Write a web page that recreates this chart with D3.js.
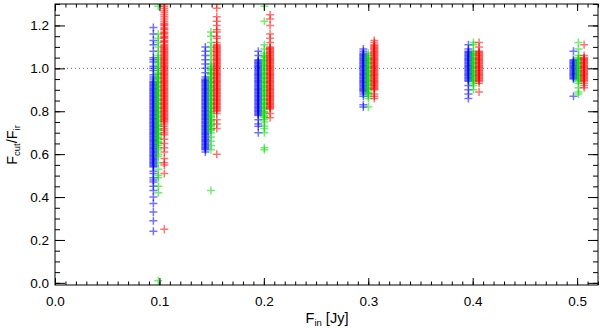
<!DOCTYPE html>
<html><head><meta charset="utf-8">
<script src="https://cdn.jsdelivr.net/npm/d3@7"></script>
<style>body{margin:0;background:#fff}svg{display:block;font-family:"Liberation Sans",Arial,Helvetica,sans-serif}</style>
</head><body><svg id="c" width="600" height="328"></svg>
<script>
// ---- data ----
const xTickValues = [0.0, 0.1, 0.2, 0.3, 0.4, 0.5];
const yTickValues = [0.0, 0.2, 0.4, 0.6, 0.8, 1.0, 1.2];
const groupNominal = [0.10, 0.15, 0.20, 0.30, 0.40, 0.50];
const blueX  = [0.0942, 0.1440, 0.1947, 0.2953, 0.3959, 0.4965];
const greenX = [0.0989, 0.1494, 0.2005, 0.3001, 0.4007, 0.5013];
const redX   = [0.1047, 0.1549, 0.2060, 0.3058, 0.4061, 0.5067];

const blue_010 = [1.19,1.16,1.13,1.11,1.08,1.05,1.04,1.03,1.01,1.00,0.99,0.97,0.96,0.95,0.94,0.93,0.92,0.91,0.90,0.89,0.88,0.87,0.86,0.85,0.84,0.83,0.82,0.81,0.80,0.79,0.78,0.77,0.76,0.75,0.74,0.73,0.72,0.71,0.70,0.69,0.68,0.67,0.66,0.65,0.64,0.63,0.62,0.61,0.60,0.59,0.58,0.57,0.56,0.55,0.54,0.52,0.51,0.49,0.48,0.47,0.45,0.43,0.40,0.37,0.33,0.29,0.24,
  0.935,0.925,0.915,0.905,0.895,0.885,0.875,0.865,0.855,0.845,0.835,0.825,0.815,0.805,0.795,0.785,0.775,0.765,0.755,0.745,0.735,0.725,0.715,0.705,0.695,0.685,0.675,0.665,0.655,0.645,0.635,0.625,0.615,0.605,0.595,0.585,0.575,0.565,0.555,0.545];
const green_010 = [1.29,1.16,1.14,1.12,1.10,1.08,1.06,1.05,1.04,1.03,1.02,1.01,1.00,0.99,0.98,0.97,0.96,0.95,0.94,0.93,0.92,0.91,0.90,0.89,0.88,0.87,0.86,0.85,0.84,0.83,0.82,0.81,0.80,0.79,0.78,0.77,0.76,0.75,0.74,0.73,0.72,0.71,0.70,0.69,0.68,0.67,0.66,0.65,0.64,0.63,0.62,0.60,0.59,0.56,0.53,0.50,0.49,0.45,0.42,0.01,
  0.975,0.955,0.935,0.915,0.895,0.875,0.855,0.835,0.815,0.795,0.775,0.755,0.735,0.715,0.695,0.675,0.655];
const red_010 = [1.31,1.30,1.29,1.28,1.27,1.26,1.25,1.24,1.23,1.22,1.21,1.20,1.19,1.18,1.17,1.16,1.15,1.14,1.13,1.12,1.11,1.10,1.09,1.08,1.07,1.06,1.05,1.04,1.03,1.02,1.01,1.00,0.99,0.98,0.97,0.96,0.95,0.94,0.93,0.92,0.91,0.90,0.89,0.88,0.87,0.86,0.85,0.84,0.83,0.82,0.81,0.80,0.79,0.78,0.77,0.76,0.75,0.74,0.73,0.72,0.71,0.70,0.69,0.67,0.65,0.63,0.61,0.58,0.56,0.55,0.51,0.25,
  1.205,1.185,1.165,1.145,1.125,1.105,1.095,1.085,1.075,1.065,1.055,1.045,1.035,1.025,1.015,1.005,0.995,0.985,0.975,0.965,0.955,0.945,0.935,0.925,0.915,0.905,0.895,0.885,0.875,0.865,0.855,0.845,0.835,0.825,0.815,0.805,0.795,0.785,0.775,0.765,0.755];

const blue_015 = [1.10,1.08,1.06,1.04,1.02,1.00,0.98,0.96,0.95,0.94,0.93,0.92,0.91,0.90,0.89,0.88,0.87,0.86,0.85,0.84,0.83,0.82,0.81,0.80,0.79,0.78,0.77,0.76,0.75,0.74,0.73,0.72,0.71,0.70,0.69,0.68,0.67,0.66,0.65,0.64,0.63,0.62,0.61,
  0.945,0.935,0.925,0.915,0.905,0.895,0.885,0.875,0.865,0.855,0.845,0.835,0.825,0.815,0.805,0.795,0.785,0.775,0.765,0.755,0.745,0.735,0.725,0.715,0.705,0.695,0.685,0.675,0.665,0.655,0.645,0.635,0.625];
const green_015 = [1.17,1.15,1.12,1.10,1.08,1.06,1.04,1.02,1.01,1.00,0.99,0.98,0.97,0.96,0.95,0.94,0.93,0.92,0.91,0.90,0.89,0.88,0.87,0.86,0.85,0.84,0.83,0.82,0.81,0.80,0.79,0.78,0.77,0.76,0.75,0.74,0.73,0.72,0.71,0.70,0.68,0.66,0.64,0.62,0.43,
  0.995,0.975,0.955,0.935,0.915,0.895,0.875,0.855,0.835,0.815,0.795,0.775,0.755,0.735,0.715];
const red_015 = [1.30,1.28,1.24,1.22,1.20,1.18,1.17,1.15,1.14,1.12,1.11,1.10,1.09,1.08,1.07,1.06,1.05,1.04,1.03,1.02,1.01,1.00,0.99,0.98,0.97,0.96,0.95,0.94,0.93,0.92,0.91,0.90,0.89,0.88,0.87,0.86,0.85,0.84,0.83,0.82,0.81,0.80,0.79,0.76,0.74,0.72,0.60,
  1.105,1.095,1.085,1.075,1.065,1.055,1.045,1.035,1.025,1.015,1.005,0.995,0.985,0.975,0.965,0.955,0.945,0.935,0.925,0.915,0.905,0.895,0.885,0.875,0.865,0.855,0.845,0.835,0.825,0.815,0.805];

const blue_020 = [1.08,1.06,1.04,1.03,1.02,1.01,1.00,0.99,0.98,0.97,0.96,0.95,0.94,0.93,0.92,0.91,0.90,0.89,0.88,0.87,0.86,0.85,0.84,0.83,0.82,0.81,0.80,0.79,0.78,0.76,0.74,0.73,0.70,
  1.035,1.025,1.015,1.005,0.995,0.985,0.975,0.965,0.955,0.945,0.935,0.925,0.915,0.905,0.895,0.885,0.875,0.865,0.855,0.845,0.835,0.825,0.815,0.805,0.795,0.785];
const green_020 = [1.29,1.22,1.11,1.09,1.07,1.06,1.05,1.04,1.03,1.02,1.01,1.00,0.99,0.98,0.97,0.96,0.95,0.94,0.93,0.92,0.91,0.90,0.89,0.88,0.87,0.86,0.85,0.84,0.83,0.82,0.81,0.80,0.79,0.78,0.77,0.76,0.75,0.73,0.72,0.70,0.63,0.62,
  1.055,1.035,1.015,0.995,0.975,0.955,0.935,0.915,0.895,0.875,0.855,0.835,0.815,0.795,0.775];
const red_020 = [1.25,1.23,1.20,1.16,1.14,1.12,1.10,1.09,1.08,1.07,1.06,1.05,1.04,1.03,1.02,1.01,1.00,0.99,0.98,0.97,0.96,0.95,0.94,0.93,0.92,0.91,0.90,0.89,0.88,0.87,0.86,0.85,0.84,0.83,0.82,0.81,0.79,0.77,
  1.095,1.085,1.075,1.065,1.055,1.045,1.035,1.025,1.015,1.005,0.995,0.985,0.975,0.965,0.955,0.945,0.935,0.925,0.915,0.905,0.895,0.885,0.875,0.865,0.855,0.845,0.835,0.825,0.815];

const blue_030 = [1.09,1.08,1.07,1.06,1.05,1.04,1.03,1.02,1.01,1.00,0.99,0.98,0.97,0.96,0.95,0.94,0.93,0.92,0.91,0.90,0.89,0.88,0.87,0.83,0.82,
  1.065,1.055,1.045,1.035,1.025,1.015,1.005,0.995,0.985,0.975,0.965,0.955,0.945,0.935,0.925,0.915,0.905,0.895];
const green_030 = [1.07,1.06,1.05,1.04,1.03,1.02,1.01,1.00,0.99,0.98,0.97,0.96,0.95,0.94,0.93,0.92,0.91,0.90,0.89,0.88,0.87,0.86,0.82,
  1.045,1.025,1.005,0.985,0.965,0.945,0.925,0.905,0.885];
const red_030 = [1.13,1.12,1.11,1.10,1.09,1.08,1.07,1.06,1.05,1.04,1.03,1.02,1.01,1.00,0.99,0.98,0.97,0.96,0.95,0.94,0.93,0.92,0.91,0.90,0.88,0.87,0.86,
  1.105,1.095,1.085,1.075,1.065,1.055,1.045,1.035,1.025,1.015,1.005,0.995,0.985,0.975,0.965,0.955,0.945,0.935,0.925,0.915,0.905];

const blue_040 = [1.11,1.09,1.08,1.07,1.06,1.05,1.04,1.03,1.02,1.01,1.00,0.99,0.98,0.97,0.96,0.95,0.94,0.92,0.90,0.88,0.86,
  1.075,1.065,1.055,1.045,1.035,1.025,1.015,1.005,0.995,0.985,0.975,0.965,0.955,0.945];
const green_040 = [1.12,1.11,1.08,1.07,1.06,1.05,1.04,1.03,1.02,1.01,1.00,0.99,0.98,0.97,0.96,0.95,0.94,0.93,0.92,0.90,
  1.065,1.045,1.025,1.005,0.985,0.965,0.945];
const red_040 = [1.12,1.10,1.08,1.07,1.06,1.05,1.04,1.03,1.02,1.01,1.00,0.99,0.98,0.97,0.96,0.95,0.94,0.93,0.89,
  1.075,1.065,1.055,1.045,1.035,1.025,1.015,1.005,0.995,0.985,0.975,0.965,0.955,0.945];

const blue_050 = [1.08,1.04,1.03,1.02,1.01,1.00,0.99,0.98,0.97,0.96,0.95,0.87,
  1.035,1.025,1.015,1.005,0.995,0.985,0.975,0.965,0.955];
const green_050 = [1.12,1.09,1.06,1.05,1.04,1.03,1.02,1.01,1.00,0.99,0.98,0.97,0.96,0.95,0.94,0.93,0.91,0.89,0.88,
  1.045,1.025,1.005,0.985,0.965,0.945];
const red_050 = [1.11,1.06,1.05,1.04,1.03,1.02,1.01,1.00,0.99,0.98,0.97,0.96,0.95,0.94,0.93,0.92,0.91,
  1.045,1.035,1.025,1.015,1.005,0.995,0.985,0.975,0.965,0.955,0.945];

const blueY  = [blue_010, blue_015, blue_020, blue_030, blue_040, blue_050];
const greenY = [green_010, green_015, green_020, green_030, green_040, green_050];
const redY   = [red_010, red_015, red_020, red_030, red_040, red_050];

// ---- layout ----
const L = 55, R = 598, T = 4, B = 285;
const svg = d3.select("#c");
const x = d3.scaleLinear().domain([0, 0.52]).range([L, R]);
const y = d3.scaleLinear().domain([-0.01, 1.30]).range([B, T]);

svg.append("defs").append("clipPath").attr("id", "clip")
  .append("rect").attr("x", L).attr("y", T).attr("width", R - L).attr("height", B - T);

// reference line at 1.0
svg.append("line")
  .attr("x1", L).attr("x2", R).attr("y1", y(1.0)).attr("y2", y(1.0))
  .attr("stroke", "#666").attr("stroke-width", 1).attr("stroke-dasharray", "1,3");

// points
const series = [
  {xs: blueX, ys: blueY, color: "rgb(0,0,255)"},
  {xs: greenX, ys: greenY, color: "rgb(0,220,0)"},
  {xs: redX, ys: redY, color: "rgb(255,0,0)"}
];
const pts = svg.append("g").attr("clip-path", "url(#clip)");
const s = 4;
series.forEach(se => {
  const data = [];
  se.ys.forEach((arr, gi) => arr.forEach(v => data.push({x: se.xs[gi], y: v})));
  pts.append("g").selectAll("path").data(data).join("path")
    .attr("d", d => {
      const px = x(d.x), py = y(d.y);
      return `M${px - s},${py}H${px + s}M${px},${py - s}V${py + s}`;
    })
    .attr("stroke", se.color).attr("stroke-opacity", 0.55).attr("stroke-width", 1.5).attr("fill", "none");
});

// axes
const minorX = d3.range(0, 53).map(i => i / 100).filter(v => v <= 0.52);
const minorY = d3.range(0, 27).map(i => i * 0.05);
const fmt = d3.format(".1f");

function styleAxis(g) {
  g.select(".domain").remove();
  g.selectAll(".tick line").attr("stroke", "#000").attr("stroke-width", 1);
  g.selectAll("text").attr("fill", "#000").attr("font-size", 13.5)
    .attr("font-family", '"Liberation Sans",Arial,Helvetica,sans-serif');
}

// bottom
svg.append("g").attr("transform", `translate(0,${B})`)
  .call(d3.axisBottom(x).tickValues(minorX).tickSize(-3.5).tickFormat("")).call(styleAxis);
svg.append("g").attr("transform", `translate(0,${B})`)
  .call(d3.axisBottom(x).tickValues(xTickValues).tickSize(-7).tickPadding(11).tickFormat(fmt)).call(styleAxis);
// top
svg.append("g").attr("transform", `translate(0,${T})`)
  .call(d3.axisTop(x).tickValues(minorX).tickSize(-3.5).tickFormat("")).call(styleAxis);
svg.append("g").attr("transform", `translate(0,${T})`)
  .call(d3.axisTop(x).tickValues(xTickValues).tickSize(-7).tickFormat("")).call(styleAxis);
// left
svg.append("g").attr("transform", `translate(${L},0)`)
  .call(d3.axisLeft(y).tickValues(minorY).tickSize(-5).tickFormat("")).call(styleAxis);
svg.append("g").attr("transform", `translate(${L},0)`)
  .call(d3.axisLeft(y).tickValues(yTickValues).tickSize(-10).tickPadding(6).tickFormat(fmt)).call(styleAxis);
// right
svg.append("g").attr("transform", `translate(${R},0)`)
  .call(d3.axisRight(y).tickValues(minorY).tickSize(-5).tickFormat("")).call(styleAxis);
svg.append("g").attr("transform", `translate(${R},0)`)
  .call(d3.axisRight(y).tickValues(yTickValues).tickSize(-10).tickFormat("")).call(styleAxis);

// frame
svg.append("rect").attr("x", L).attr("y", T).attr("width", R - L).attr("height", B - T)
  .attr("fill", "none").attr("stroke", "#000").attr("stroke-width", 1);

// axis titles
const xt = svg.append("text").attr("x", 327).attr("y", 323).attr("text-anchor", "middle")
  .attr("font-size", 14.5).attr("fill", "#000");
xt.append("tspan").text("F");
xt.append("tspan").attr("font-size", 9.5).attr("dy", 3).text("in");
xt.append("tspan").attr("dy", -3).text(" [Jy]");

const yt = svg.append("text").attr("transform", "translate(17,145) rotate(-90)")
  .attr("text-anchor", "middle").attr("font-size", 14.5).attr("fill", "#000");
yt.append("tspan").text("F");
yt.append("tspan").attr("font-size", 9.5).attr("dy", 3).text("cut");
yt.append("tspan").attr("dy", -3).text("/F");
yt.append("tspan").attr("font-size", 9.5).attr("dy", 3).text("ir");
</script></body></html>
